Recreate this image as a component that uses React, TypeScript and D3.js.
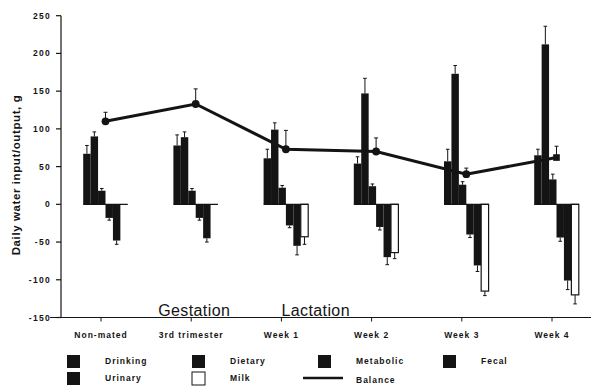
import React from "react";
import * as d3 from "d3";

// Daily water input/output (g) for dams across reproductive stages
const categories = ["Non-mated", "3rd trimester", "Week 1", "Week 2", "Week 3", "Week 4"];
const drinking = [67, 78, 61, 54, 57, 65];
const drinkingErr = [11, 14, 12, 9, 16, 8];
const dietary = [90, 89, 99, 147, 173, 212];
const dietaryErr = [6, 7, 9, 20, 11, 24];
const metabolic = [18, 18, 22, 24, 26, 33];
const metabolicErr = [3, 3, 3, 3, 4, 7];
const fecal = [-18, -18, -28, -30, -40, -44];
const fecalErr = [3, 3, 3, 4, 4, 5];
const urinary = [-48, -45, -55, -70, -81, -101];
const urinaryErr = [5, 5, 12, 10, 8, 12];
const milk = [0, 0, -43, -64, -115, -120];
const milkErr = [0, 0, 10, 8, 6, 12];
const balance = [110, 133, 73, 70, 40, 62];
const balanceErr = [12, 20, 25, 18, 8, 15];
const balanceMarkers = ["circle", "circle", "circle", "circle", "circle", "square"];
const yTicks = [250, 200, 150, 100, 50, 0, -50, -100, -150];
const periods = ["Gestation", "Lactation"];
const periodAnchors = ["3rd trimester", "Week 1"];

const INK = "#141414";
const FONT = "'Liberation Sans', Arial, sans-serif";

type Series = { name: string; values: number[]; errs: number[]; fill: string };

const series: Series[] = [
  { name: "Drinking", values: drinking, errs: drinkingErr, fill: INK },
  { name: "Dietary", values: dietary, errs: dietaryErr, fill: INK },
  { name: "Metabolic", values: metabolic, errs: metabolicErr, fill: INK },
  { name: "Fecal", values: fecal, errs: fecalErr, fill: INK },
  { name: "Urinary", values: urinary, errs: urinaryErr, fill: INK },
  { name: "Milk", values: milk, errs: milkErr, fill: "#ffffff" },
];

const legendOrder = ["Drinking", "Dietary", "Metabolic", "Fecal", "Urinary", "Milk", "Balance"];

export default function App() {
  const W = 594;
  const H = 386;
  const axisX = 61;

  const x = d3.scalePoint<string>().domain(categories).range([101, 552]);
  const y = d3.scaleLinear().domain([-150, 250]).range([317.5, 15.7]);
  const groupShift = 4.5;
  const groupHalf = 22.3;
  const inner = d3
    .scaleBand<string>()
    .domain(series.map((s) => s.name))
    .range([-groupHalf, groupHalf])
    .padding(0);
  const bw = inner.bandwidth();
  const y0 = y(0);

  const center = (c: string) => (x(c) as number) + groupShift;

  const linePath = d3
    .line<number>()
    .x((_, i) => center(categories[i]))
    .y((d) => y(d))(balance);

  const symCircle = d3.symbol().type(d3.symbolCircle).size(48)();
  const symSquare = d3.symbol().type(d3.symbolSquare).size(44)();

  const smallText: React.CSSProperties = {
    fontFamily: FONT,
    fontWeight: 700,
    fontSize: 8.5,
    letterSpacing: 1,
  };

  const legendCols = [67, 192, 318, 443];
  const legendRows = [355, 372];

  return (
    <svg width={W} height={H} style={{ position: "absolute", left: 0, top: 0, background: "#fff" }}>
      {/* y axis */}
      <line x1={axisX} x2={axisX} y1={y(250)} y2={y(-150)} stroke={INK} strokeWidth={1.2} />
      {yTicks.map((t) => (
        <g key={t}>
          <line x1={axisX - 5} x2={axisX} y1={y(t)} y2={y(t)} stroke={INK} strokeWidth={1.2} />
          <text x={51} y={y(t) + 3} textAnchor="end" style={{ ...smallText, letterSpacing: 1.3 }} fill={INK}>
            {t}
          </text>
        </g>
      ))}
      <text
        transform={`translate(19.5,${175}) rotate(-90)`}
        textAnchor="middle"
        style={{ fontFamily: FONT, fontWeight: 700, fontSize: 11.5, letterSpacing: 0.6 }}
        fill={INK}
      >
        Daily water input/output, g
      </text>

      {/* x axis along the bottom */}
      <line x1={50} x2={591} y1={y(-150)} y2={y(-150)} stroke={INK} strokeWidth={1.2} />
      {categories.map((c) => (
        <g key={c}>
          <line x1={x(c)} x2={x(c)} y1={y(-150)} y2={y(-150) + 4} stroke={INK} strokeWidth={1} />
          <text x={x(c)} y={338} textAnchor="middle" style={smallText} fill={INK}>
            {c}
          </text>
        </g>
      ))}
      {periods.map((p, i) => (
        <text
          key={p}
          x={i === 0 ? (x(periodAnchors[i]) as number) + 3 : (x(periodAnchors[i]) as number)}
          y={316}
          textAnchor={i === 0 ? "middle" : "start"}
          style={{ fontFamily: FONT, fontSize: 16, letterSpacing: 0.4 }}
          fill={INK}
        >
          {p}
        </text>
      ))}

      {/* balance line behind the bars */}
      <path d={linePath ?? ""} fill="none" stroke={INK} strokeWidth={3} />
      {balance.map((v, i) => {
        const cx = center(categories[i]);
        const top = y(v + balanceErr[i]);
        return (
          <g key={i}>
            <line x1={cx} x2={cx} y1={y(v)} y2={top} stroke={INK} strokeWidth={1} />
            <line x1={cx - 2} x2={cx + 2} y1={top} y2={top} stroke={INK} strokeWidth={1} />
            <path
              d={balanceMarkers[i] === "square" ? symSquare ?? "" : symCircle ?? ""}
              transform={`translate(${cx},${y(v)})`}
              fill={INK}
            />
          </g>
        );
      })}

      {/* grouped bars */}
      {categories.map((c, ci) => {
        const cx = center(c);
        return (
          <g key={c}>
            {series.map((s) => {
              const v = s.values[ci];
              if (v === 0) return null;
              const bx = cx + (inner(s.name) as number);
              const yTop = y(Math.max(0, v));
              const yBot = y(Math.min(0, v));
              const end = y(v);
              const errEnd = y(v + Math.sign(v) * s.errs[ci]);
              const ex = bx + bw / 2;
              return (
                <g key={s.name}>
                  <line x1={ex} x2={ex} y1={end} y2={errEnd} stroke={INK} strokeWidth={1} />
                  <line x1={ex - 1.8} x2={ex + 1.8} y1={errEnd} y2={errEnd} stroke={INK} strokeWidth={1} />
                  <rect
                    x={bx}
                    y={yTop}
                    width={bw}
                    height={yBot - yTop}
                    fill={s.fill}
                    stroke={INK}
                    strokeWidth={s.fill === INK ? 0 : 1.2}
                  />
                </g>
              );
            })}
            <line x1={cx - groupHalf} x2={cx + groupHalf} y1={y0} y2={y0} stroke={INK} strokeWidth={1.2} />
          </g>
        );
      })}

      {/* legend */}
      {legendOrder.map((name, i) => {
        const col = i % 4;
        const row = Math.floor(i / 4);
        const lx = legendCols[col];
        const ly = legendRows[row];
        const s = series.find((d) => d.name === name);
        return (
          <g key={name}>
            {s ? (
              <rect
                x={lx}
                y={ly}
                width={13}
                height={13}
                fill={s.fill}
                stroke={INK}
                strokeWidth={s.fill === INK ? 0 : 1}
              />
            ) : (
              <line x1={lx - 15} x2={lx + 25} y1={ly + 6} y2={ly + 6} stroke={INK} strokeWidth={2.5} />
            )}
            <text x={lx + 38} y={ly + (s ? 9 : 11)} style={smallText} fill={INK}>
              {name}
            </text>
          </g>
        );
      })}
    </svg>
  );
}
